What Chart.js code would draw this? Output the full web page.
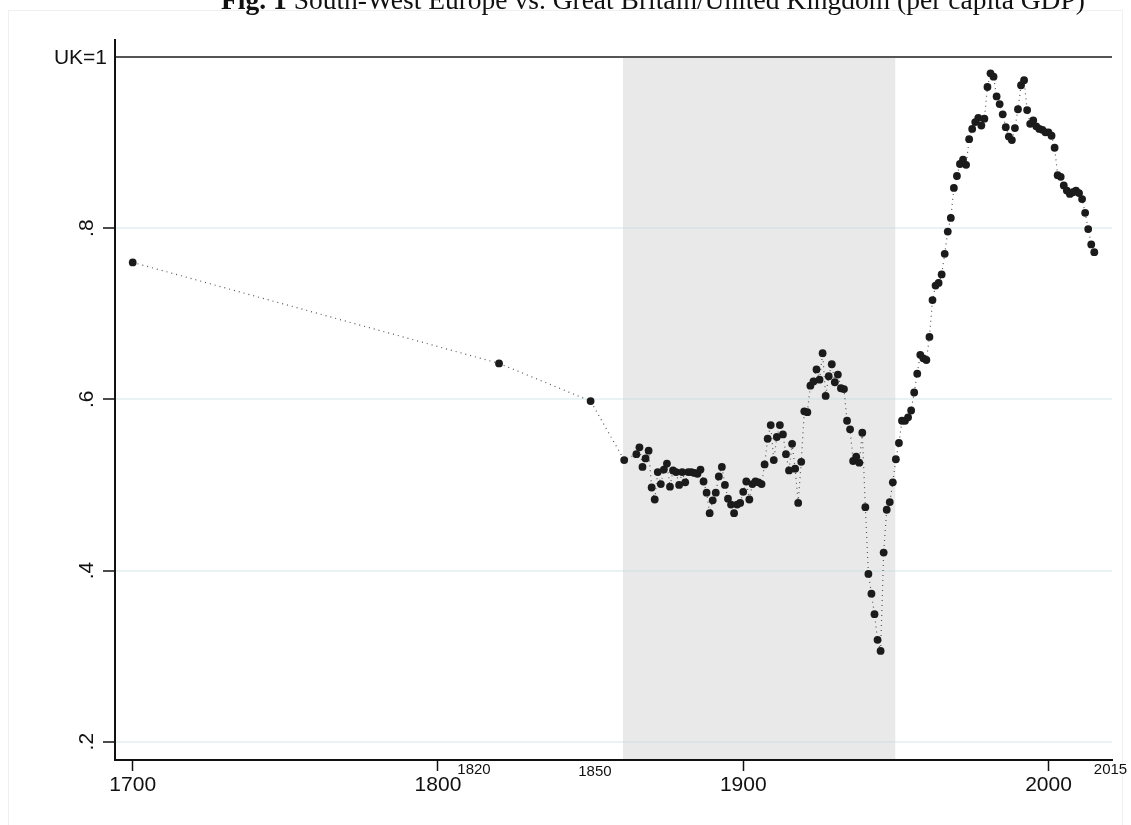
<!DOCTYPE html>
<html>
<head>
<meta charset="utf-8">
<script src="https://cdn.jsdelivr.net/npm/chart.js@4.4.1/dist/chart.umd.min.js"></script>
<style>
    body { margin: 0; background: #fff; }
    #wrap { width: 1131px; height: 825px; }
</style>
</head>
<body>
<div id="wrap"><canvas id="gdpChart" width="1131" height="825"></canvas></div>
<script>
// South-West Europe per capita GDP relative to UK (UK = 1)
const years = [
    1700, 1820, 1850, 1861,
    1865, 1866, 1867, 1868, 1869, 1870, 1871, 1872, 1873, 1874,
    1875, 1876, 1877, 1878, 1879, 1880, 1881, 1882, 1883, 1884,
    1885, 1886, 1887, 1888, 1889, 1890, 1891, 1892, 1893, 1894,
    1895, 1896, 1897, 1898, 1899, 1900, 1901, 1902, 1903, 1904,
    1905, 1906, 1907, 1908, 1909, 1910, 1911, 1912, 1913, 1914,
    1915, 1916, 1917, 1918, 1919, 1920, 1921, 1922, 1923, 1924,
    1925, 1926, 1927, 1928, 1929, 1930, 1931, 1932, 1933, 1934,
    1935, 1936, 1937, 1938, 1939, 1940, 1941, 1942, 1943, 1944,
    1945, 1946, 1947, 1948, 1949, 1950, 1951, 1952, 1953, 1954,
    1955, 1956, 1957, 1958, 1959, 1960, 1961, 1962, 1963, 1964,
    1965, 1966, 1967, 1968, 1969, 1970, 1971, 1972, 1973, 1974,
    1975, 1976, 1977, 1978, 1979, 1980, 1981, 1982, 1983, 1984,
    1985, 1986, 1987, 1988, 1989, 1990, 1991, 1992, 1993, 1994,
    1995, 1996, 1997, 1998, 1999, 2000, 2001, 2002, 2003, 2004,
    2005, 2006, 2007, 2008, 2009, 2010, 2011, 2012, 2013, 2014,
    2015
];
const ratioToUK = [
    0.760, 0.642, 0.598, 0.529,
    0.536, 0.544, 0.521, 0.531, 0.540, 0.497, 0.483, 0.515, 0.501, 0.518,
    0.525, 0.498, 0.517, 0.515, 0.500, 0.515, 0.503, 0.515, 0.515, 0.514,
    0.513, 0.518, 0.504, 0.491, 0.467, 0.482, 0.491, 0.510, 0.521, 0.500,
    0.484, 0.477, 0.467, 0.477, 0.479, 0.492, 0.504, 0.483, 0.501, 0.504,
    0.503, 0.501, 0.524, 0.554, 0.570, 0.529, 0.556, 0.570, 0.559, 0.536,
    0.517, 0.548, 0.519, 0.479, 0.527, 0.586, 0.585, 0.616, 0.621, 0.635,
    0.623, 0.654, 0.604, 0.627, 0.641, 0.620, 0.629, 0.613, 0.612, 0.575,
    0.565, 0.528, 0.533, 0.526, 0.561, 0.474, 0.396, 0.373, 0.349, 0.319,
    0.306, 0.421, 0.471, 0.480, 0.503, 0.530, 0.549, 0.575, 0.575, 0.579,
    0.587, 0.608, 0.630, 0.652, 0.648, 0.646, 0.673, 0.716, 0.733, 0.736,
    0.746, 0.770, 0.796, 0.812, 0.847, 0.861, 0.875, 0.880, 0.874, 0.904,
    0.916, 0.924, 0.929, 0.920, 0.928, 0.965, 0.981, 0.977, 0.954, 0.945,
    0.933, 0.918, 0.907, 0.903, 0.917, 0.939, 0.967, 0.973, 0.938, 0.922,
    0.926, 0.919, 0.916, 0.915, 0.912, 0.912, 0.908, 0.894, 0.862, 0.860,
    0.850, 0.844, 0.840, 0.842, 0.844, 0.841, 0.834, 0.818, 0.799, 0.781,
    0.772
];

const xMajorTicks = [1700, 1800, 1900, 2000];
const yTicks = [0.2, 0.4, 0.6, 0.8, 1];
const yTickLabels = [".2", ".4", ".6", ".8", "UK=1"];
// small year labels and where they sit on the axis
const xMinorLabels = ["1820", "1850", "2015"];
const xMinorAt = [1811.8, 1851.4, 2020.3];
const shadedPeriod = [1860.6, 1949.8];

const titleBold = "Fig. 1";
const titleRest = " South-West Europe vs. Great Britain/United Kingdom (per capita GDP)";

const points = years.map((yr, i) => ({ x: yr, y: ratioToUK[i] }));

const stataLook = {
    id: "stataLook",
    beforeDraw(chart) {
        const ctx = chart.ctx;
        const area = chart.chartArea;
        const xs = chart.scales.x;
        const ys = chart.scales.y;
        ctx.save();
        ctx.fillStyle = "#fff";
        ctx.fillRect(0, 0, chart.width, chart.height);
        // faint outer frame
        ctx.strokeStyle = "#f0f0f0";
        ctx.lineWidth = 1;
        ctx.strokeRect(8.5, 10.5, 1114, 830);
        // shaded period
        const x0 = xs.getPixelForValue(shadedPeriod[0]);
        const x1 = xs.getPixelForValue(shadedPeriod[1]);
        const yTop = ys.getPixelForValue(1);
        ctx.fillStyle = "#e9e9e9";
        ctx.fillRect(x0, yTop, x1 - x0, area.bottom - yTop);
        ctx.restore();
    },
    afterDraw(chart) {
        const ctx = chart.ctx;
        const area = chart.chartArea;
        const xs = chart.scales.x;
        const ys = chart.scales.y;
        ctx.save();
        ctx.fillStyle = "#111";
        // y labels, vertical like Stata, except UK=1
        ctx.font = "21px 'Liberation Sans', Arial, sans-serif";
        yTicks.forEach((v, i) => {
            const py = ys.getPixelForValue(v);
            if (v === 1) {
                ctx.textAlign = "right";
                ctx.textBaseline = "middle";
                ctx.fillText(yTickLabels[i], area.left - 8, py + 1);
            } else {
                ctx.save();
                ctx.translate(area.left - 28, py);
                ctx.rotate(-Math.PI / 2);
                ctx.textAlign = "center";
                ctx.textBaseline = "middle";
                ctx.fillText(yTickLabels[i], 0, 0);
                ctx.restore();
            }
        });
        // small year labels under the axis
        ctx.font = "15px 'Liberation Sans', Arial, sans-serif";
        ctx.textAlign = "center";
        ctx.textBaseline = "middle";
        xMinorLabels.forEach((lab, i) => {
            const offs = lab === "1850" ? 12 : 10;
            ctx.fillText(lab, xs.getPixelForValue(xMinorAt[i]), area.bottom + offs);
        });
        // title, clipped at the top like the source
        ctx.textBaseline = "alphabetic";
        ctx.textAlign = "left";
        const boldFont = "bold 27.5px 'Liberation Serif', 'Times New Roman', serif";
        const plainFont = "27.5px 'Liberation Serif', 'Times New Roman', serif";
        ctx.font = boldFont;
        const wBold = ctx.measureText(titleBold).width;
        ctx.font = plainFont;
        const wRest = ctx.measureText(titleRest).width;
        let tx = 653 - (wBold + wRest) / 2;
        ctx.font = boldFont;
        ctx.fillText(titleBold, tx, 9);
        ctx.font = plainFont;
        ctx.fillText(titleRest, tx + wBold, 9);
        ctx.restore();
    }
};

const gdpCanvas = document.getElementById("gdpChart");
const gdpConfig = {
    type: "scatter",
    data: {
        datasets: [
            {
                label: "SW Europe / UK",
                data: points,
                showLine: true,
                borderColor: "#555",
                borderWidth: 1.2,
                borderDash: [1, 4],
                pointRadius: 3.9,
                pointBackgroundColor: "#1b1b1b",
                pointBorderWidth: 0,
                tension: 0,
            },
        ],
    },
    options: {
        responsive: false,
        animation: false,
        layout: { padding: { left: 0, top: 40, right: 19, bottom: 0 } },
        plugins: {
            legend: { display: false },
            tooltip: { enabled: false },
        },
        scales: {
            x: {
                type: "linear",
                min: 1694.2,
                max: 2020.8,
                afterBuildTicks: (s) => { s.ticks = xMajorTicks.map((v) => ({ value: v })); },
                afterFit: (s) => { s.height = 65; },
                border: { display: true, color: "#111", width: 2 },
                grid: {
                    drawOnChartArea: false,
                    drawTicks: true,
                    tickLength: 11,
                    tickColor: "#111",
                    tickWidth: 1.5,
                },
                ticks: {
                    color: "#111",
                    padding: 2,
                    maxRotation: 0,
                    callback: (v) => String(v),
                    font: { family: "'Liberation Sans', Arial, sans-serif", size: 21 },
                },
            },
            y: {
                type: "linear",
                min: 0.1786,
                max: 1.0199,
                afterBuildTicks: (s) => { s.ticks = yTicks.map((v) => ({ value: v })); },
                afterFit: (s) => { s.width = 115; },
                border: { display: true, color: "#111", width: 2 },
                grid: {
                    drawTicks: true,
                    tickLength: 12,
                    lineWidth: 2,
                    color: (c) => (c.tick && c.tick.value === 1 ? "#555" : "rgba(190,215,222,0.32)"),
                    tickColor: (c) => (c.tick && c.tick.value === 1 ? "rgba(0,0,0,0)" : "#111"),
                    tickWidth: 1.5,
                },
                ticks: { display: false },
            },
        },
    },
    plugins: [stataLook],
};

const gdpChart = new Chart(gdpCanvas, gdpConfig);
</script>
</body>
</html>
